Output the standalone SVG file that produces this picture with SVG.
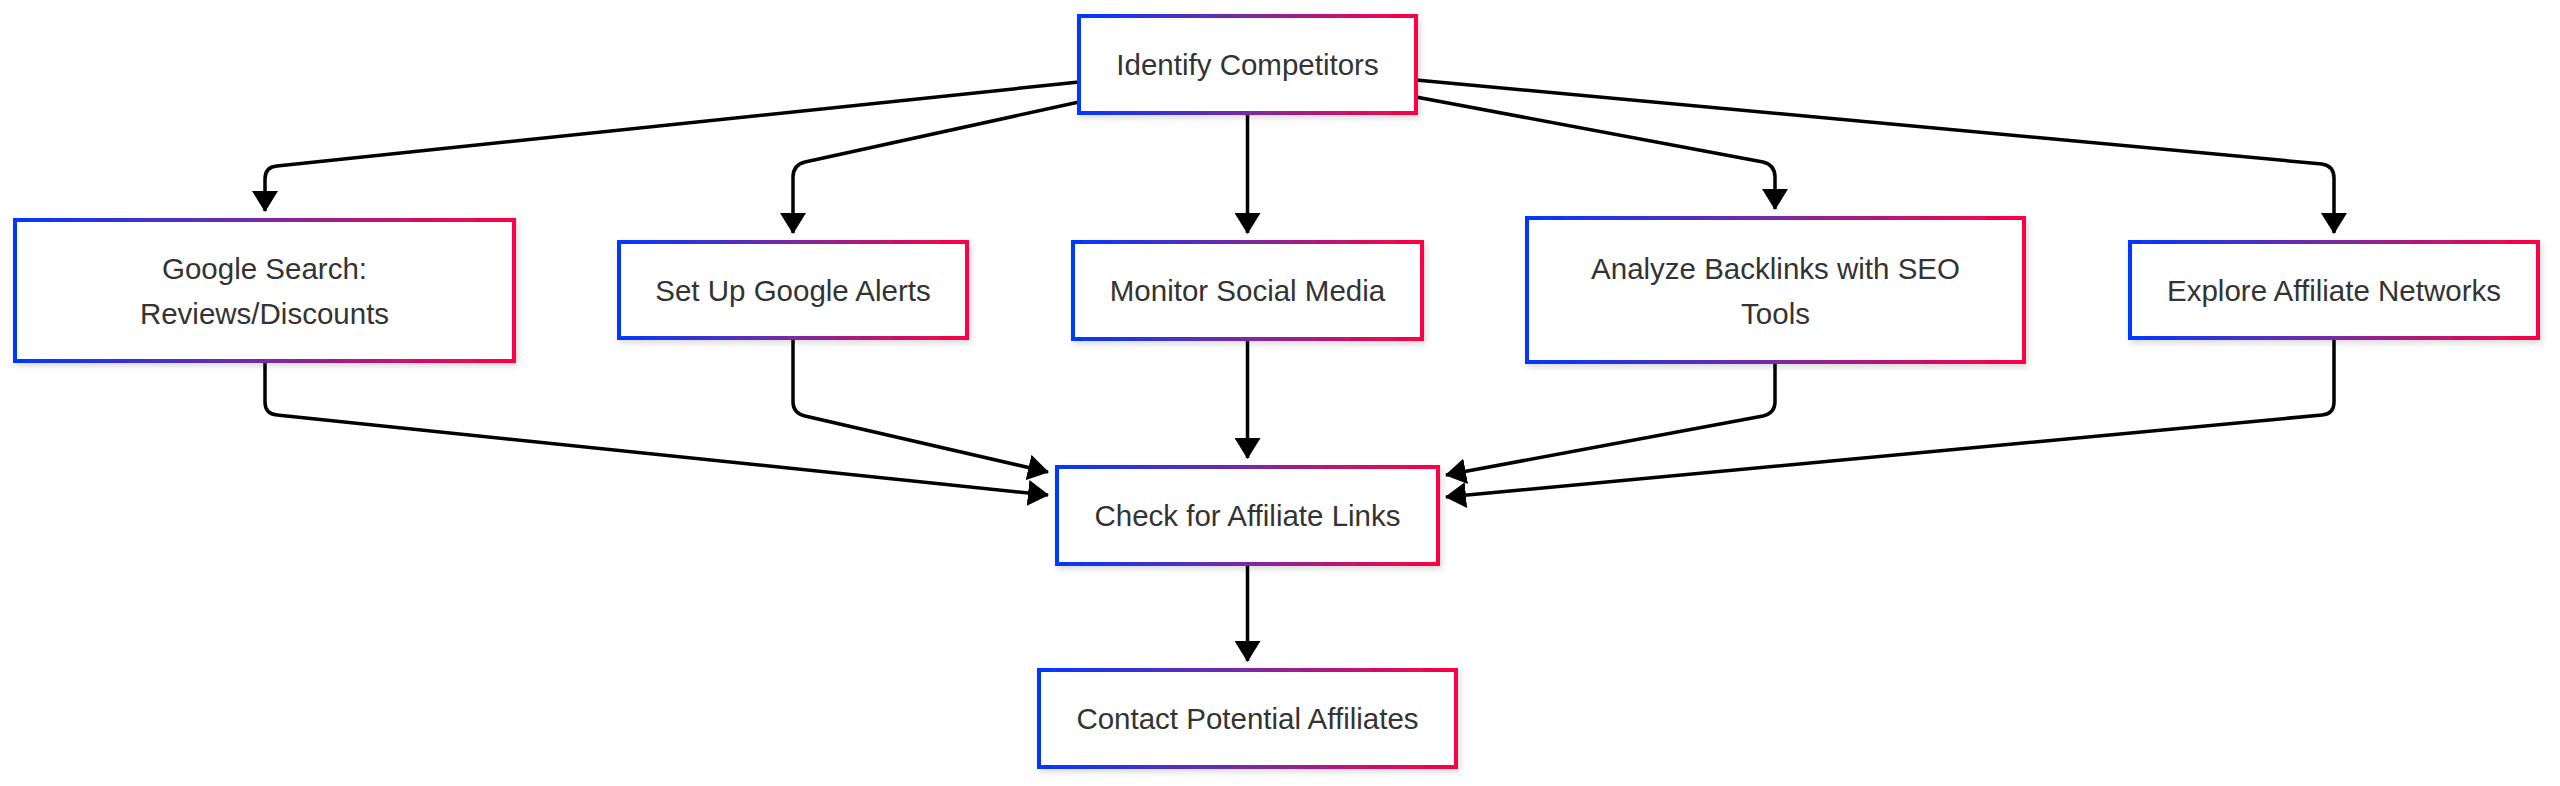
<svg xmlns="http://www.w3.org/2000/svg" width="2560" height="786" viewBox="0 0 2560 786">
<style>
.box{fill:#fff;stroke:url(#g);stroke-width:4;filter:url(#sh)}
.t{font-family:"Liberation Sans",Arial,sans-serif;font-size:29.5px;fill:#333;text-anchor:middle;dominant-baseline:central}
.e{fill:none;stroke:#000;stroke-width:3.5;marker-end:url(#ah)}
</style>
<defs>
<linearGradient id="g" x1="0" y1="0" x2="1" y2="0"><stop offset="0" stop-color="#0038ff"/><stop offset="0.5" stop-color="#7a2aa0"/><stop offset="1" stop-color="#ff0044"/></linearGradient>
<filter id="sh" x="-5%" y="-10%" width="110%" height="130%"><feDropShadow dx="2" dy="3" stdDeviation="3" flood-color="#000" flood-opacity="0.15"/></filter>
<marker id="ah" markerUnits="userSpaceOnUse" viewBox="0 0 21 26" refX="20" refY="13" markerWidth="21" markerHeight="26" orient="auto"><path d="M0,0 L21,13 L0,26z" fill="#000"/></marker>
</defs>
<rect width="2560" height="786" fill="#fff"/>
<g id="connectors">
<path class="e" d="M1079,82 L277,166 Q265,167 265,179 L265,211"/>
<path class="e" d="M1079,102 L805,162 Q793,165 793,177 L793,233"/>
<path class="e" d="M1247.5,113 L1247.5,233"/>
<path class="e" d="M1416,97 L1763,162 Q1775,165 1775,177 L1775,209"/>
<path class="e" d="M1416,80 L2322,164 Q2334,166 2334,178 L2334,233"/>
<path class="e" d="M265,361 L265,402 Q265,414 277,415 L1048,495"/>
<path class="e" d="M793,338 L793,402 Q793,413 805,416 L1048,472"/>
<path class="e" d="M1247.5,339 L1247.5,458"/>
<path class="e" d="M1775,362 L1775,402 Q1775,413 1763,416 L1446,475"/>
<path class="e" d="M2334,338 L2334,402 Q2334,414 2322,415 L1446,497"/>
<path class="e" d="M1247.5,564 L1247.5,661"/>
</g>
<g id="n-identify"><rect class="box" x="1079" y="16" width="337" height="97"/><text class="t" x="1247.5" y="64.5">Identify Competitors</text></g>
<g id="n-google"><rect class="box" x="15" y="220" width="499" height="141"/><text class="t" x="264.5" y="268">Google Search:</text><text class="t" x="264.5" y="313">Reviews/Discounts</text></g>
<g id="n-alerts"><rect class="box" x="619" y="242" width="348" height="96"/><text class="t" x="793" y="290">Set Up Google Alerts</text></g>
<g id="n-social"><rect class="box" x="1073" y="242" width="349" height="97"/><text class="t" x="1247.5" y="290">Monitor Social Media</text></g>
<g id="n-backlinks"><rect class="box" x="1527" y="218" width="497" height="144"/><text class="t" x="1775.5" y="268">Analyze Backlinks with SEO</text><text class="t" x="1775.5" y="313">Tools</text></g>
<g id="n-networks"><rect class="box" x="2130" y="242" width="408" height="96"/><text class="t" x="2334" y="290">Explore Affiliate Networks</text></g>
<g id="n-check"><rect class="box" x="1057" y="467" width="381" height="97"/><text class="t" x="1247.5" y="515.5">Check for Affiliate Links</text></g>
<g id="n-contact"><rect class="box" x="1039" y="670" width="417" height="97"/><text class="t" x="1247.5" y="718.5">Contact Potential Affiliates</text></g>
</svg>
